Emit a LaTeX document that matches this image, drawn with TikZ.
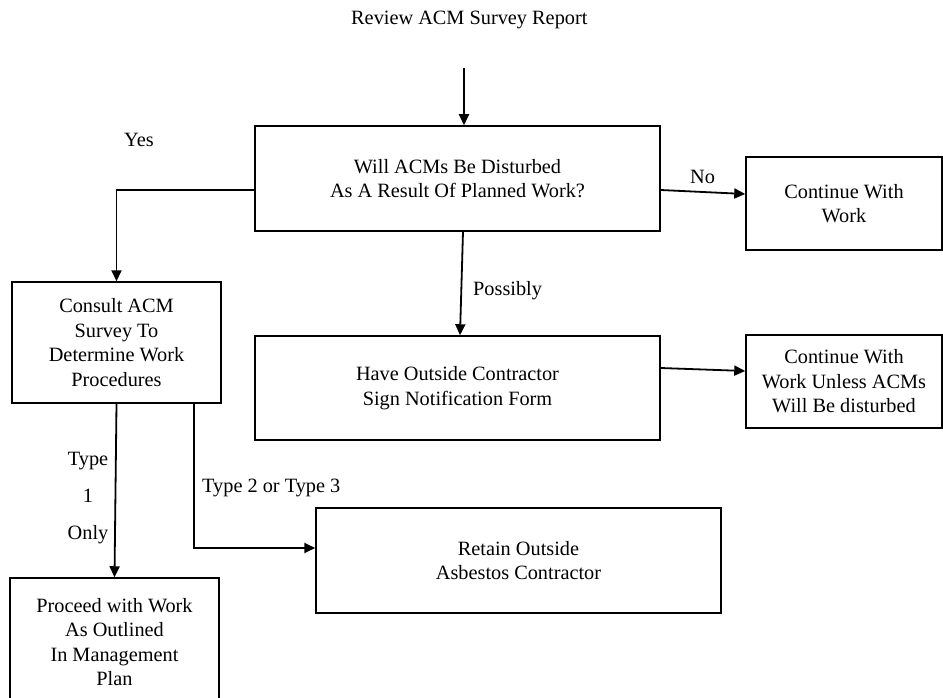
\documentclass[tikz,border=0pt]{standalone}
\usepackage{fontspec}
\setmainfont{Liberation Serif}
\usetikzlibrary{arrows.meta,positioning}
\tikzset{
    blk/.style={draw, line width=1.5pt, align=center, inner sep=0pt},
    arr/.style={line width=1.8pt, -{Triangle[length=11pt,width=10pt]}},
    lbl/.style={anchor=base west, inner sep=0pt},
}
\begin{document}
\begin{tikzpicture}[x=1pt,y=-1pt,font=\fontsize{20.3}{24.6}\selectfont]
    \useasboundingbox (0,0) rectangle (943,698);
    \clip (0,0) rectangle (943,698);

    \node[lbl] (title) at (351,25) {Review ACM Survey Report};
    \coordinate (start) at (464,68);

    % Boxes
    \node[blk, minimum width=405pt, minimum height=105pt] (main) at (457.5,178.5)
        {Will ACMs Be Disturbed\\As A Result Of Planned Work?};
    \node[blk, minimum width=196pt, minimum height=93pt] (cont) at (844,203.5)
        {Continue With\\Work};
    \node[blk, minimum width=209pt, minimum height=121pt] (consult) at (116.5,342.5)
        {Consult ACM\\Survey To\\Determine Work\\Procedures};
    \node[blk, minimum width=405pt, minimum height=104pt] (have) at (457.5,388)
        {Have Outside Contractor\\Sign Notification Form};
    \node[blk, minimum width=196pt, minimum height=93pt] (unless) at (844,381.5)
        {Continue With\\Work Unless ACMs\\Will Be disturbed};
    \node[blk, minimum width=405pt, minimum height=105pt] (retain) at (518.5,560.5)
        {Retain Outside\\Asbestos Contractor};
    \node[blk, minimum width=209pt, minimum height=128pt] (proceed) at (114.5,642)
        {Proceed with Work\\As Outlined\\In Management\\Plan};

    % Connectors
    \draw[arr] (start) -- ([xshift=6.5pt]main.north);
    \draw[arr] ([yshift=-11.5pt]main.west) -| (consult.north);
    \draw[arr] ([yshift=-11.5pt]main.east) -- ([yshift=9.5pt]cont.west);
    \draw[arr] ([xshift=5.5pt]main.south) -- ([xshift=2.5pt]have.north);
    \draw[arr] ([yshift=20pt]have.east) -- ([yshift=10.5pt]unless.west);
    \draw[arr] (consult.south) -- (proceed.north);
    \draw[arr] ([xshift=77.5pt]consult.south) |- ([yshift=12.5pt]retain.west);

    % Labels
    \node[lbl] (yes) at (124,147) {Yes};
    \node[lbl] (no) at (690,183) {No};
    \node[lbl] (maybe) at (473,295) {Possibly};
    \node[anchor=base, inner sep=0pt, align=center] (type1) at (88,539) {Type\\[12pt]1\\[12pt]Only};
    \node[lbl] (type23) at (202,492) {Type 2 or Type 3};
\end{tikzpicture}
\end{document}
